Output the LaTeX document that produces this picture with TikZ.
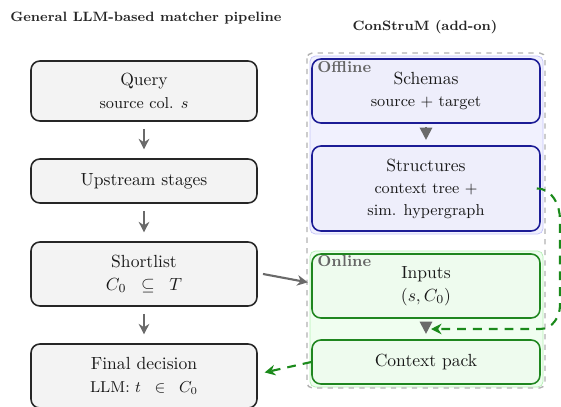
\documentclass[tikz,border=0pt]{standalone}
\usepackage{amsmath}
\usepackage{amssymb}
\usetikzlibrary{calc,positioning,arrows.meta}

\definecolor{stagefill}{HTML}{F3F3F3}
\definecolor{flowgray}{HTML}{6A6A6A}
\definecolor{offfill}{HTML}{EEEEFB}
\definecolor{offdraw}{HTML}{1C1C96}
\definecolor{offzone}{HTML}{F1F1FE}
\definecolor{offedge}{HTML}{C4C4FA}
\definecolor{onfill}{HTML}{EEFBEE}
\definecolor{ondraw}{HTML}{1F861F}
\definecolor{onzone}{HTML}{F0FEF0}
\definecolor{onedge}{HTML}{B4F0B4}
\definecolor{linkgreen}{HTML}{1B8A1B}

\begin{document}
\begin{tikzpicture}[x=0.02cm,y=-0.02cm,>={Stealth[length=6pt,width=6pt]},
    stage/.style={draw=black!85,fill=stagefill,rounded corners=5pt,line width=0.9pt,
        minimum width=4.52cm,align=center,text=black!90,inner sep=2pt},
    offbox/.style={stage,draw=offdraw,fill=offfill,minimum width=4.56cm},
    onbox/.style={stage,draw=ondraw,fill=onfill,minimum width=4.56cm},
    flow/.style={->,draw=flowgray,line width=1.2pt},
    drop/.style={-{Triangle[length=7pt,width=7pt]},draw=flowgray,line width=1.2pt},
    link/.style={->,draw=linkgreen,line width=1.2pt,dash pattern=on 5pt off 4pt},
    zonelabel/.style={anchor=base west,inner sep=0pt,text=black!60,font=\small\bfseries},
    heading/.style={inner sep=0pt,font=\fontsize{7.7}{9}\selectfont\bfseries,text=black!85}]
    \useasboundingbox (0,0) rectangle (561,406);
    %
    \node[heading,anchor=base west] (lefttitle) at (10,21) {General LLM-based matcher pipeline};
    \node[heading,anchor=base] (righttitle) at (425,30) {ConStruM (add-on)};
    %
    % zones of the add-on
    \draw[fill=offzone,draw=offedge,rounded corners=3pt] (310,56) rectangle (543,234);
    \draw[fill=onzone,draw=onedge,rounded corners=3pt] (310,251) rectangle (543,387);
    \draw[draw=black!30,dashed,line width=0.8pt,rounded corners=3pt] (307,53) rectangle (545,388);
    %
    % left pipeline
    \node[stage,minimum height=1.2cm] (Query) at (144,91) {Query\\[1pt]{\small source col. $s$}};
    \node[stage,minimum height=0.88cm] (Upstream) at (144,181) {Upstream stages};
    \node[stage,minimum height=1.28cm] (Shortlist) at (144,274) {Shortlist\\[1pt]{$C_0 \;\;\subseteq\;\; T$}};
    \node[stage,minimum height=1.28cm] (Final) at (144,376) {Final decision\\[1pt]{\small LLM: $t \;\;\in\;\; C_0$}};
    %
    % add-on
    \node[offbox,minimum height=1.28cm] (Schemas) at (426,91) {Schemas\\[1pt]{\small source + target}};
    \node[offbox,minimum height=1.7cm] (Structures) at (426,188.5) {Structures\\[1pt]{\small context tree +}\\{\small sim. hypergraph}};
    \node[onbox,minimum height=1.28cm] (Inputs) at (426,286) {Inputs\\[1pt]{$(s, C_0)$}};
    \node[onbox,minimum height=0.88cm] (Pack) at (426,362) {Context pack};
    \node[zonelabel] (offlabel) at (317,72) {Offline};
    \node[zonelabel] (onlabel) at (317,266) {Online};
    \coordinate (joint) at (431,329);
    %
    \draw[flow,shorten <=4pt,shorten >=5pt] (Query) -- (Upstream);
    \draw[flow,shorten <=4pt,shorten >=5pt] (Upstream) -- (Shortlist);
    \draw[flow,shorten <=4pt,shorten >=5pt] (Shortlist) -- (Final);
    \draw[drop,shorten <=2pt,shorten >=3pt] (Schemas) -- (Structures);
    \draw[drop,shorten <=2pt,shorten >=3pt] (Inputs) -- (Pack);
    \draw[flow,shorten <=3pt,shorten >=2pt] ($(Shortlist.east)+(0,-1)$) -- ($(Inputs.west)+(0,-3)$);
    %
    \draw[link] ($(Structures.east)+(-4,0)$) to[out=0,in=90] (560,220) -- (560,305) to[out=-90,in=0] (540,329) -- (joint);
    \draw[link,shorten >=4pt] (Pack.west) -- ($(Final.east)+(0,-2)$);
\end{tikzpicture}
\end{document}
